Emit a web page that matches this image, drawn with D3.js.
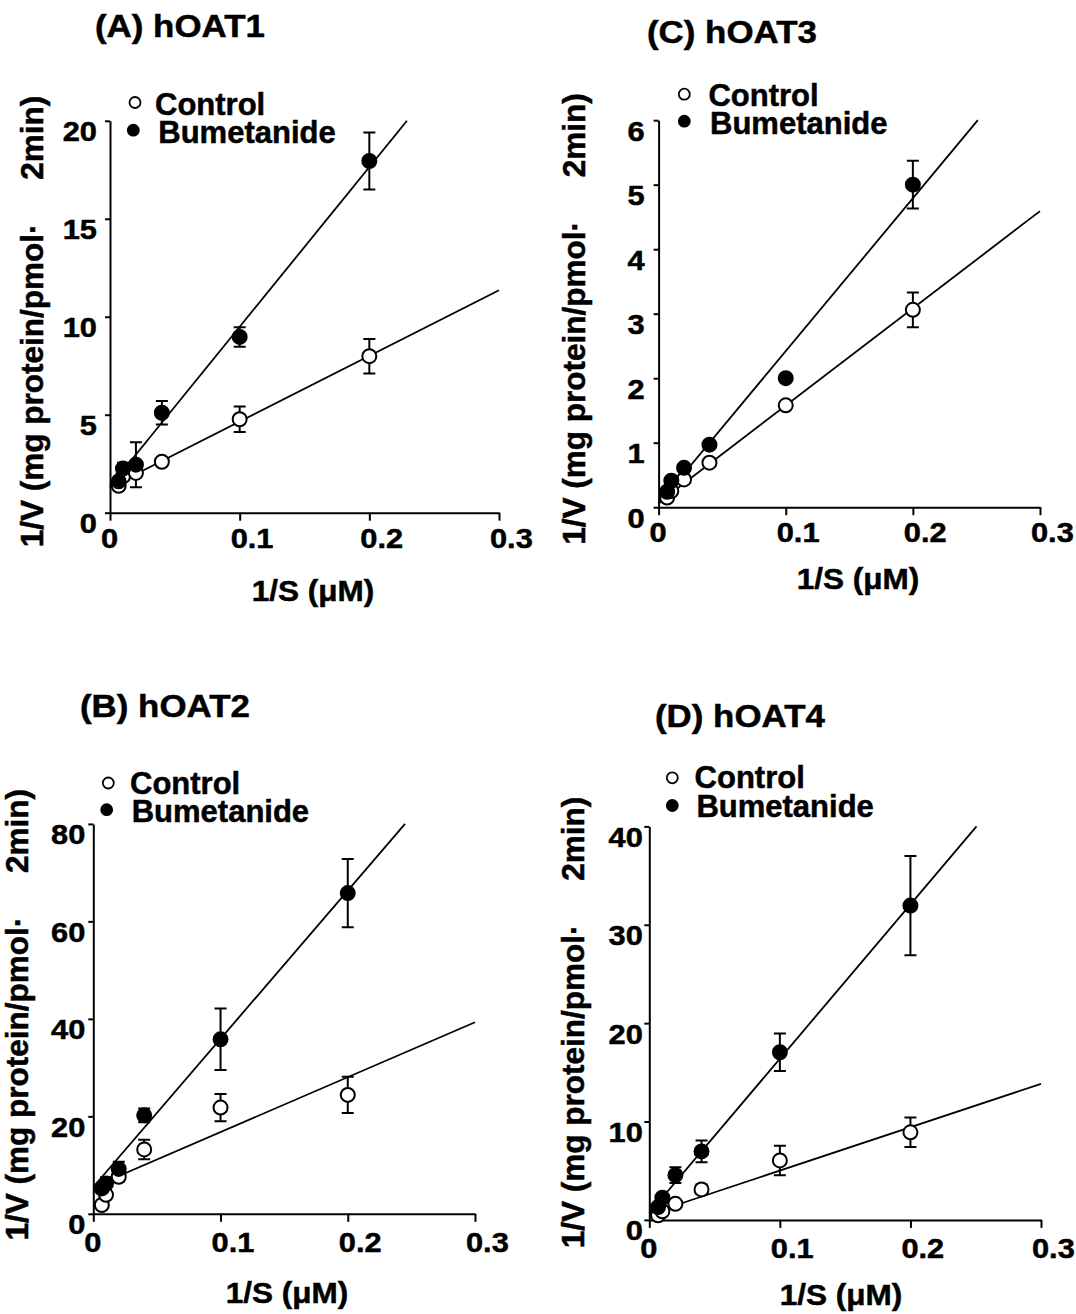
<!DOCTYPE html>
<html>
<head>
<meta charset="utf-8">
<script src="https://cdn.jsdelivr.net/npm/d3@7"></script>
<style>
  body { margin: 0; background: #fff; }
  svg text { font-family: "Liberation Sans", Arial, sans-serif; font-weight: bold; fill: #000; stroke: #000; stroke-width: 0.5px; }
</style>
</head>
<body>
<div id="chart"></div>
<script>
// 1/S values (1/uM), same for every transporter
const invS = [0.0067, 0.01, 0.02, 0.04, 0.1, 0.2];
const xTickValues = [0, 0.1, 0.2, 0.3];
const xTickLabels = ["0", "0.1", "0.2", "0.3"];
const seriesNames = ["Control", "Bumetanide"];

// (A) hOAT1
const ctrlA = [1.37, 1.85, 2.03, 2.6, 4.77, 7.99];
const ctrlAErr = [0.1, 0.1, 0.2, 0.15, 0.65, 0.88];
const bumA = [1.6, 2.25, 2.45, 5.1, 8.97, 17.95];
const bumAErr = [0.15, 0.3, 1.15, 0.6, 0.5, 1.45];
const fitCtrlA = [[0, 1.3], [0.3, 11.35]];
const fitBumA = [[0, 1.34], [0.229, 20]];
const yTicksA = [0, 5, 10, 15, 20];

// (B) hOAT2
const ctrlB = [1.8, 3.9, 7.6, 13.2, 21.8, 24.4];
const ctrlBErr = [0.3, 0.5, 1.0, 2.0, 2.8, 3.7];
const bumB = [5.2, 6.2, 9.2, 20.2, 35.8, 65.8];
const bumBErr = [1.0, 1.3, 1.5, 1.4, 6.3, 7.0];
const fitCtrlB = [[0, 5.5], [0.3, 39.3]];
const fitBumB = [[0, 5.5], [0.245, 80]];
const yTicksB = [0, 20, 40, 60, 80];

// (C) hOAT3
const ctrlC = [0.15, 0.25, 0.43, 0.69, 1.58, 3.06];
const ctrlCErr = [0.03, 0.03, 0.03, 0.03, 0.05, 0.27];
const bumC = [0.24, 0.41, 0.61, 0.97, 2.0, 5.0];
const bumCErr = [0.03, 0.03, 0.03, 0.05, 0.05, 0.37];
const fitCtrlC = [[0, 0.07], [0.3, 4.59]];
const fitBumC = [[0, 0.05], [0.2511, 6]];
const yTicksC = [0, 1, 2, 3, 4, 5, 6];

// (D) hOAT4
const ctrlD = [0.46, 0.88, 1.63, 3.1, 6.05, 8.9];
const ctrlDErr = [0.1, 0.1, 0.2, 0.5, 1.5, 1.5];
const bumD = [1.3, 2.25, 4.55, 6.96, 17.04, 31.95];
const bumDErr = [0.2, 0.3, 0.8, 1.1, 1.9, 5.05];
const fitCtrlD = [[0, 0.6], [0.3, 13.83]];
const fitBumD = [[0, 0.7], [0.2506, 40]];
const yTicksD = [0, 10, 20, 30, 40];

const yTitleText = "1/V (mg protein/pmol\u00b7" + "\u00a0".repeat(5) + "2min)";
const xTitleText = "1/S (\u03bcM)";

// Placement of each panel on the page
const panels = [
  { title: "(A) hOAT1", ctrl: ctrlA, ctrlErr: ctrlAErr, bum: bumA, bumErr: bumAErr, fitCtrl: fitCtrlA, fitBum: fitBumA, yTicks: yTicksA,
    left: 110, right: 499, bottom: 512.7, top: 120.8, yGap: 13, xLabTop: 15,
    titlePos: [95, 36.7], xTitlePos: [313, 601], yTitlePos: [43, 321.5],
    legend: { cx: [135, 133.3], cy: [102.5, 130.2], tx: [155, 158.3], ty: [114.6, 143] } },
  { title: "(C) hOAT3", ctrl: ctrlC, ctrlErr: ctrlCErr, bum: bumC, bumErr: bumCErr, fitCtrl: fitCtrlC, fitBum: fitBumC, yTicks: yTicksC,
    left: 658.6, right: 1040, bottom: 507.2, top: 120.2, yGap: 14, xLabTop: 15,
    titlePos: [647, 42.7], xTitlePos: [858, 589], yTitlePos: [585, 319],
    legend: { cx: [684.3, 684.3], cy: [94.2, 121.2], tx: [708.4, 710], ty: [106.3, 134] } },
  { title: "(B) hOAT2", ctrl: ctrlB, ctrlErr: ctrlBErr, bum: bumB, bumErr: bumBErr, fitCtrl: fitCtrlB, fitBum: fitBumB, yTicks: yTicksB,
    left: 93.3, right: 475, bottom: 1213.8, top: 823.9, yGap: 8, xLabTop: 18,
    titlePos: [80, 716.7], xTitlePos: [287, 1303], yTitlePos: [28, 1014.7],
    legend: { cx: [108.3, 106.7], cy: [783, 809.7], tx: [130, 131.7], ty: [793.7, 822] } },
  { title: "(D) hOAT4", ctrl: ctrlD, ctrlErr: ctrlDErr, bum: bumD, bumErr: bumDErr, fitCtrl: fitCtrlD, fitBum: fitBumD, yTicks: yTicksD,
    left: 649.3, right: 1041, bottom: 1219.9, top: 826.4, yGap: 6.5, xLabTop: 18,
    titlePos: [655, 726.7], xTitlePos: [841, 1305], yTitlePos: [584, 1022.5],
    legend: { cx: [672.3, 672.3], cy: [777.8, 805.5], tx: [694.6, 696.4], ty: [788.4, 816.8] } }
];

const svg = d3.select("#chart")
  .append("svg")
  .attr("width", 1076)
  .attr("height", 1314);

svg.append("rect").attr("width", 1076).attr("height", 1314).attr("fill", "#fff");

panels.forEach(p => {
  const yMax = p.yTicks[p.yTicks.length - 1];
  const x = d3.scaleLinear().domain([0, 0.3]).range([p.left, p.right]);
  const y = d3.scaleLinear().domain([0, yMax]).range([p.bottom, p.top]);
  const g = svg.append("g");

  // Panel title
  g.append("text")
    .attr("transform", `translate(${p.titlePos[0]},${p.titlePos[1]}) scale(1.09,1)`)
    .style("font-size", "32px")
    .text(p.title);

  // X axis
  const xAxis = g.append("g")
    .attr("transform", `translate(0,${p.bottom})`)
    .call(d3.axisBottom(x)
      .tickValues(xTickValues)
      .tickFormat((d, i) => xTickLabels[i])
      .tickSize(8)
      .tickSizeOuter(0));
  xAxis.selectAll(".tick text")
    .attr("x", 0).attr("y", 0).attr("dy", "0.72em")
    .attr("text-anchor", "start")
    .attr("transform", `translate(-9.5,${p.xLabTop}) scale(1.1,1)`)
    .style("font-size", "28px");

  // Y axis
  const yAxis = g.append("g")
    .attr("transform", `translate(${p.left},0)`)
    .call(d3.axisLeft(y)
      .tickValues(p.yTicks)
      .tickFormat(d3.format("d"))
      .tickSize(5)
      .tickSizeOuter(0));
  yAxis.selectAll(".tick text")
    .attr("x", 0).attr("y", 0).attr("dy", "0.36em")
    .attr("text-anchor", "end")
    .attr("transform", `translate(${-p.yGap},10) scale(1.1,1)`)
    .style("font-size", "28px");

  [xAxis, yAxis].forEach(a => {
    a.attr("font-family", null).attr("font-size", null);
    a.select(".domain").attr("stroke", "#000").attr("stroke-width", 2);
    a.selectAll(".tick line").attr("stroke", "#000").attr("stroke-width", 2);
  });

  // Axis titles
  g.append("text")
    .attr("transform", `translate(${p.xTitlePos[0]},${p.xTitlePos[1]}) scale(1.05,1)`)
    .attr("text-anchor", "middle")
    .style("font-size", "30px")
    .text(xTitleText);

  g.append("text")
    .attr("transform", `translate(${p.yTitlePos[0]},${p.yTitlePos[1]}) rotate(-90)`)
    .attr("text-anchor", "middle")
    .style("font-size", "31.5px")
    .text(yTitleText);

  // Fitted lines
  const line = d3.line().x(d => x(d[0])).y(d => y(d[1]));
  [p.fitCtrl, p.fitBum].forEach(f => {
    g.append("path")
      .attr("d", line(f))
      .attr("fill", "none")
      .attr("stroke", "#000")
      .attr("stroke-width", 1.8);
  });

  // Error bars first, points on top
  const series = [
    { vals: p.ctrl, errs: p.ctrlErr, fill: "#fff" },
    { vals: p.bum, errs: p.bumErr, fill: "#000" }
  ];
  series.forEach(s => {
    const pts = invS.map((v, i) => ({ x: v, y: s.vals[i], e: s.errs[i] }));
    g.append("g").attr("stroke", "#000").attr("stroke-width", 2)
      .selectAll("path")
      .data(pts)
      .join("path")
      .attr("fill", "none")
      .attr("d", d => {
        const cx = x(d.x), hi = y(d.y + d.e), lo = y(d.y - d.e);
        return `M${cx},${hi}V${lo}M${cx - 6},${hi}H${cx + 6}M${cx - 6},${lo}H${cx + 6}`;
      });
  });
  series.forEach(s => {
    const pts = invS.map((v, i) => ({ x: v, y: s.vals[i] }));
    g.append("g").selectAll("circle")
      .data(pts)
      .join("circle")
      .attr("cx", d => x(d.x))
      .attr("cy", d => y(d.y))
      .attr("r", 7)
      .attr("fill", s.fill)
      .attr("stroke", "#000")
      .attr("stroke-width", 2);
  });

  // Legend
  seriesNames.forEach((name, i) => {
    g.append("circle")
      .attr("cx", p.legend.cx[i])
      .attr("cy", p.legend.cy[i])
      .attr("r", 5.5)
      .attr("fill", i === 0 ? "#fff" : "#000")
      .attr("stroke", "#000")
      .attr("stroke-width", 1.8);
    g.append("text")
      .attr("x", p.legend.tx[i])
      .attr("y", p.legend.ty[i])
      .style("font-size", "31px")
      .text(name);
  });
});
</script>
</body>
</html>
